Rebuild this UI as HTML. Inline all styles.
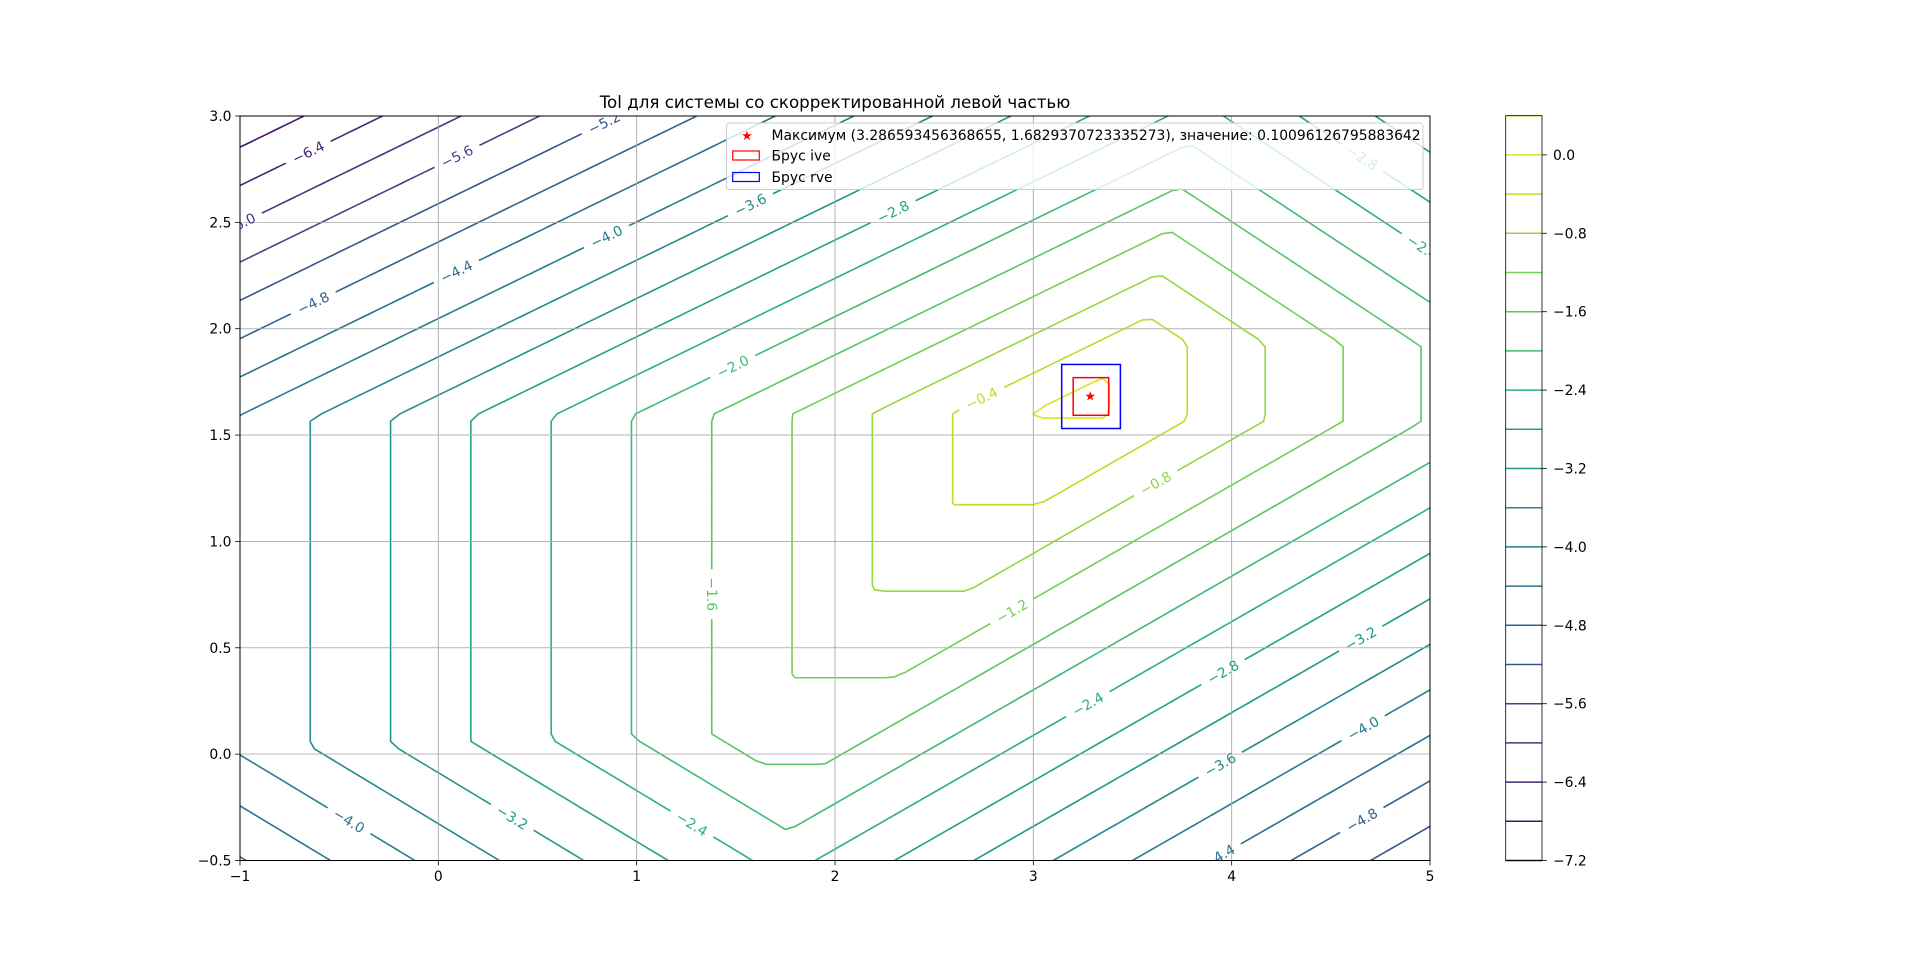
<!DOCTYPE html>
<html><head><meta charset="utf-8"><style>
html,body{margin:0;padding:0;background:#fff;}
svg{display:block;font-family:"DejaVu Sans","Liberation Sans",sans-serif;}
</style></head><body>
<svg id="chart" width="1920" height="967" viewBox="0 0 1920 967" xmlns="http://www.w3.org/2000/svg">
<rect x="0" y="0" width="1920" height="967" fill="#fff"/>
<defs>
<clipPath id="plotclip"><rect x="240" y="116" width="1190" height="744.5"/></clipPath>
</defs>
<g id="grid"></g>
<g clip-path="url(#plotclip)"><g id="contours"></g></g>
<g clip-path="url(#plotclip)" id="labelbg"></g>
<g id="grid2"></g>
<g clip-path="url(#plotclip)" id="clabels"></g>
<g id="boxes"></g>
<rect x="240" y="116" width="1190" height="744.5" fill="none" stroke="#000" stroke-width="1"/>
<g id="axes"></g>
<text x="835" y="108" text-anchor="middle" font-size="16.7" fill="#000">Tol для системы со скорректированной левой частью</text>
<g id="legend">
<rect x="726.5" y="123" width="696.5" height="66.5" rx="3" fill="#fff" fill-opacity="0.8" stroke="#ccc" stroke-width="1"/>
<text x="747" y="140" text-anchor="middle" font-size="13" fill="#f00">★</text>
<text x="771.5" y="140" font-size="13.9" fill="#000">Максимум (3.286593456368655, 1.6829370723335273), значение: 0.10096126795883642</text>
<rect x="732.7" y="151" width="26.6" height="9" fill="none" stroke="#f00" stroke-width="1.2"/>
<text x="771.5" y="160.5" font-size="13.9" fill="#000">Брус ive</text>
<rect x="732.7" y="172.5" width="26.6" height="9" fill="none" stroke="#00f" stroke-width="1.2"/>
<text x="771.5" y="182" font-size="13.9" fill="#000">Брус rve</text>
</g>
<g id="colorbar"></g>
</svg>
<script>
// Tol = min of linear pieces: c + a*x + b*y
const termConst = [-2.962, 3.444, -1.553, 0.435, 0.55, 6.836, -3.054];
const termCoefX = [0.988, -1.018, 0, -1.0, 1.01, -1.045, 0.94];
const termCoefY = [0, 0, 0.983, 1.87, -2.222, -1.70, 1.67];
const levels = [-7.2,-6.8,-6.4,-6.0,-5.6,-5.2,-4.8,-4.4,-4.0,-3.6,-3.2,-2.8,-2.4,-2.0,-1.6,-1.2,-0.8,-0.4,0.0,0.4];
const xTicks = [-1,0,1,2,3,4,5];
const yTicks = [-0.5,0.0,0.5,1.0,1.5,2.0,2.5,3.0];
const cbTicks = [0.0,-0.8,-1.6,-2.4,-3.2,-4.0,-4.8,-5.6,-6.4,-7.2];
const labelLevels = [-6.4,-6.0,-5.6,-5.2,-4.8,-4.4,-4.0,-3.6,-2.8,-2.0,-0.4,-1.6,-1.2,-0.8,-2.4,-2.8,-3.2,-3.6,-4.0,-4.4,-4.8,-4.0,-3.2,-2.4,-2.8,-2.4];
const labelX = [-0.667,-1.02,0.087,0.828,-0.637,0.087,0.845,1.568,2.291,1.482,2.741,1.383,2.896,3.612,3.285,3.964,4.656,3.951,4.674,3.915,4.643,-0.444,0.364,1.278,4.643,4.952];
const labelY = [2.854,2.53,2.826,2.987,2.135,2.278,2.44,2.595,2.555,1.829,1.669,0.752,0.665,1.282,0.216,0.372,0.533,-0.066,0.101,-0.44,-0.285,-0.302,-0.313,-0.330,2.78,2.365];
const maxPoint = [3.286593456368655, 1.6829370723335273];
const boxIve = [3.201, 3.380, 1.593, 1.770];
const boxRve = [3.143, 3.439, 1.531, 1.832];

const XMIN=-1,XMAX=5,YMIN=-0.5,YMAX=3;
const PL=240,PR=1430,PT=116,PB=860.5;
function sx(x){return PL+(x-XMIN)/(XMAX-XMIN)*(PR-PL);}
function sy(y){return PB-(y-YMIN)/(YMAX-YMIN)*(PB-PT);}
function tol(x,y){let m=Infinity;for(let i=0;i<termConst.length;i++){const v=termConst[i]+termCoefX[i]*x+termCoefY[i]*y;if(v<m)m=v;}return m;}
const vir=['#440154','#482475','#414487','#355f8d','#2a788e','#21918c','#22a884','#44bf70','#7ad151','#bddf26','#fde725'];
function hx(h){return [parseInt(h.substr(1,2),16),parseInt(h.substr(3,2),16),parseInt(h.substr(5,2),16)];}
function viridis(t){t=Math.max(0,Math.min(1,t));const s=t*10,i=Math.min(9,Math.floor(s)),f=s-i;const a=hx(vir[i]),b=hx(vir[i+1]);return 'rgb('+a.map((v,k)=>Math.round(v+(b[k]-v)*f)).join(',')+')';}
function lcol(L){return viridis((L-levels[0])/(levels[levels.length-1]-levels[0]));}
const NS='http://www.w3.org/2000/svg';
function mk(tag,attrs,parent){const e=document.createElementNS(NS,tag);for(const k in attrs)e.setAttribute(k,attrs[k]);parent.appendChild(e);return e;}
function fmt(v){const s=v.toFixed(1);return (v<0?'\u2212'+s.substr(1):(s==='-0.0'?'0.0':s));}

function drawGrid(gid){
const grid=document.getElementById(gid);
xTicks.forEach(v=>{const g=mk('line',{x1:sx(v),x2:sx(v),y1:PT,y2:PB,stroke:'#b0b0b0','stroke-width':0.8},grid);

});
yTicks.forEach(v=>{const g=mk('line',{x1:PL,x2:PR,y1:sy(v),y2:sy(v),stroke:'#b0b0b0','stroke-width':0.8},grid);

});
}
drawGrid('grid');

// contours via marching squares
const NX=121,NY=101;
const gx=[],gy=[],F=[];
for(let i=0;i<NX;i++)gx.push(XMIN+(XMAX-XMIN)*i/(NX-1));
for(let j=0;j<NY;j++)gy.push(YMIN+(YMAX-YMIN)*j/(NY-1));
for(let i=0;i<NX;i++){F.push([]);for(let j=0;j<NY;j++)F[i].push(tol(gx[i],gy[j]));}
const cg=document.getElementById('contours');
levels.forEach(L=>{
  let d='';
  for(let i=0;i<NX-1;i++)for(let j=0;j<NY-1;j++){
    const c=[[gx[i],gy[j],F[i][j]],[gx[i+1],gy[j],F[i+1][j]],[gx[i+1],gy[j+1],F[i+1][j+1]],[gx[i],gy[j+1],F[i][j+1]]];
    const pts=[];
    for(let e=0;e<4;e++){const a=c[e],b=c[(e+1)%4];
      if((a[2]<L)!==(b[2]<L)){const t=(L-a[2])/(b[2]-a[2]);pts.push([a[0]+(b[0]-a[0])*t,a[1]+(b[1]-a[1])*t]);}}
    for(let k=0;k+1<pts.length;k+=2){d+='M'+sx(pts[k][0]).toFixed(2)+' '+sy(pts[k][1]).toFixed(2)+'L'+sx(pts[k+1][0]).toFixed(2)+' '+sy(pts[k+1][1]).toFixed(2);}
  }
  if(d){const p=mk('path',{d:d,fill:'none',stroke:lcol(L),'stroke-width':1.6,'stroke-linecap':'round'},cg);
  
  }
});

// contour labels (snapped onto their contour)
const lg=document.getElementById('clabels'),bgg=document.getElementById('labelbg');
labelLevels.forEach((L,k)=>{
  let x=labelX[k],y=labelY[k];const h=1e-4;
  for(let it=0;it<3;it++){
    const ga=(tol(x+h,y)-tol(x-h,y))/(2*h),gb=(tol(x,y+h)-tol(x,y-h))/(2*h);
    const g2=ga*ga+gb*gb;if(g2<1e-9)break;
    const r=tol(x,y)-L;x-=r*ga/g2;y-=r*gb/g2;
  }
  const dpx=(tol(x+h,y)-tol(x-h,y))/(2*h)/((PR-PL)/(XMAX-XMIN));
  const dpy=-(tol(x,y+h)-tol(x,y-h))/(2*h)/((PB-PT)/(YMAX-YMIN));
  let ang=Math.atan2(dpx,-dpy)*180/Math.PI;
  if(ang>90)ang-=180; if(ang<=-90)ang+=180;
  const X=sx(x),Y=sy(y),txt=fmt(L),w=txt.length*9+14;
  const rr=mk('rect',{x:X-w/2,y:Y-7,width:w,height:14,fill:'#fff',transform:'rotate('+ang.toFixed(1)+' '+X+' '+Y+')'},bgg);
  
  
  const t=mk('text',{x:X,y:Y+5,'text-anchor':'middle','font-size':13.9,fill:lcol(L),transform:'rotate('+ang.toFixed(1)+' '+X+' '+Y+')'},lg);
  t.textContent=txt;
  
  
});
drawGrid('grid2');

// boxes and max point
const bg=document.getElementById('boxes');
const rb=mk('rect',{x:sx(boxRve[0]),y:sy(boxRve[3]),width:sx(boxRve[1])-sx(boxRve[0]),height:sy(boxRve[2])-sy(boxRve[3]),fill:'none',stroke:'#00f','stroke-width':1.5},bg);


const ib=mk('rect',{x:sx(boxIve[0]),y:sy(boxIve[3]),width:sx(boxIve[1])-sx(boxIve[0]),height:sy(boxIve[2])-sy(boxIve[3]),fill:'none',stroke:'#f00','stroke-width':1.5},bg);


const st=mk('text',{x:sx(maxPoint[0]),y:sy(maxPoint[1])+4.5,'text-anchor':'middle','font-size':13,fill:'#f00'},bg);
st.textContent='★';



// axes ticks
const ax=document.getElementById('axes');
xTicks.forEach(v=>{const X=sx(v);
  const l=mk('line',{x1:X,x2:X,y1:PB,y2:PB+4.9,stroke:'#000','stroke-width':0.8},ax);
  
  
  const t=mk('text',{x:X,y:881,'text-anchor':'middle','font-size':13.9,fill:'#000'},ax);
  t.textContent=(v<0?'\u2212'+(-v):String(v));
  
  });
yTicks.forEach(v=>{const Y=sy(v);
  const l=mk('line',{x1:PL-4.9,x2:PL,y1:Y,y2:Y,stroke:'#000','stroke-width':0.8},ax);
  
  
  const t=mk('text',{x:231.5,y:Y+5,'text-anchor':'end','font-size':13.9,fill:'#000'},ax);
  t.textContent=fmt(v);
  
  });

// colorbar
const cb=document.getElementById('colorbar');
const CL=1505.7,CR=1542,CT=115.7,CB=860.5;
function cy(v){return CB-(v-levels[0])/(levels[levels.length-1]-levels[0])*(CB-CT);}
levels.forEach(L=>{const l=mk('line',{x1:CL,x2:CR,y1:cy(L),y2:cy(L),stroke:lcol(L),'stroke-width':1.5},cb);
  
  });
const cf=mk('rect',{x:CL,y:CT,width:CR-CL,height:CB-CT,fill:'none',stroke:'#000','stroke-width':0.8},cb);


cbTicks.forEach(v=>{const Y=cy(v);
  const l=mk('line',{x1:CR,x2:CR+4.9,y1:Y,y2:Y,stroke:'#000','stroke-width':0.8},cb);
  
  
  const t=mk('text',{x:1553,y:Y+5,'font-size':13.9,fill:'#000'},cb);
  t.textContent=fmt(v);
  
  });
</script>
</body></html>
